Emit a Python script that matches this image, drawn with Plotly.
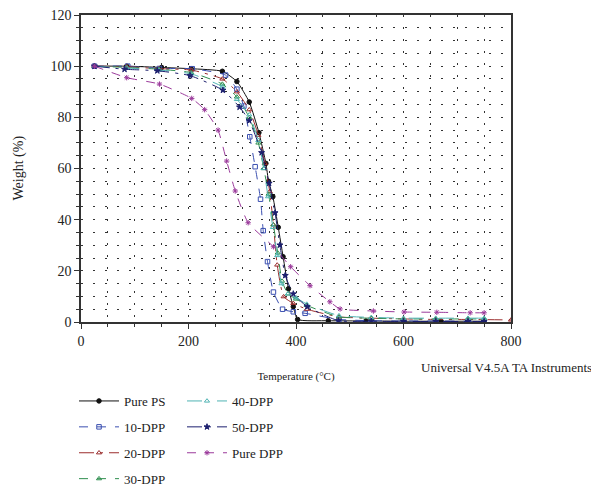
import plotly.graph_objects as go

# ---- data ----
ps_T = [25, 85, 150, 205, 263, 290, 313, 331, 344, 349, 357, 367, 376, 386, 395, 403, 460, 530, 600, 670, 750]
ps_W = [100, 100, 99.5, 99, 98, 94, 86, 74, 62, 55, 49, 37, 25.5, 13, 6, 1, 0.5, 0.4, 0.3, 0.3, 0.3]

d10_T = [25, 87, 146, 207, 269, 290, 303, 314, 324, 334, 339, 347, 358, 375, 395, 417, 480, 540, 600, 660, 720, 750]
d10_W = [100, 100, 99.1, 99, 96.5, 91, 84.4, 72.4, 60.7, 48, 35.7, 23.6, 11.7, 5, 4, 3.4, 1, 0.5, 0.4, 0.4, 0.3, 0.3]

d20_T = [25, 85, 145, 205, 263, 290, 313, 330, 342, 351, 358, 365, 377, 395, 420, 480, 540, 600, 660, 720, 800]
d20_W = [100, 99.8, 99, 98.5, 95, 90, 83, 73, 62, 51, 38, 22.3, 9.9, 7.3, 5, 2, 1.5, 1.2, 1, 1, 0.8]

d30_T = [25, 85, 145, 205, 263, 290, 313, 330, 340, 349, 358, 366, 374, 385, 400, 420, 480, 540, 600, 660, 720, 750]
d30_W = [100, 99.5, 98.8, 97.5, 93, 88, 80, 70, 60, 50, 38, 27, 16, 11, 9, 6.5, 2, 1.5, 1.2, 1.2, 1.2, 1.2]

d40_T = [25, 85, 145, 205, 263, 290, 313, 330, 340, 348, 357, 365, 373, 385, 400, 420, 480, 540, 600, 660, 720, 750]
d40_W = [100, 99.3, 98.5, 97, 92, 87, 81, 71, 60, 49, 37, 26, 15, 11, 9.5, 7, 2.5, 1.8, 1.5, 1.5, 1.5, 1.5]

d50_T = [25, 81, 142, 203, 264, 295, 313, 336, 350, 361, 370, 380, 395, 421, 479, 540, 600, 660, 720, 750]
d50_W = [100, 98.8, 98.2, 96.3, 90.6, 84, 78.7, 66.2, 54.2, 42.7, 30.1, 18.2, 11, 6, 0.5, 0.3, 0.2, 0.2, 0.2, 0.2]

dpp_T = [25, 85, 146, 206, 230, 255, 271, 287, 311, 358, 390, 426, 463, 482, 544, 601, 662, 724, 750]
dpp_W = [100, 95.5, 93, 87.4, 83, 75, 62.9, 51.2, 38.8, 29.4, 21.6, 14.2, 7.9, 5.1, 4.3, 3.9, 3.8, 3.6, 3.6]

series = [
    ("Pure PS", ps_T, ps_W, "#111111", "solid", "circle", "legend"),
    ("10-DPP", d10_T, d10_W, "#3a4fb0", "dash", "square-open", "legend"),
    ("20-DPP", d20_T, d20_W, "#9b2d2d", "longdashdot", "triangle-up-open", "legend"),
    ("30-DPP", d30_T, d30_W, "#2f8f4f", "dash", "triangle-up-open", "legend"),
    ("40-DPP", d40_T, d40_W, "#4fb3b3", "longdash", "triangle-up-open", "legend2"),
    ("50-DPP", d50_T, d50_W, "#1c1f6e", "longdashdot", "star", "legend2"),
    ("Pure DPP", dpp_T, dpp_W, "#9b3a9b", "dash", "asterisk-open", "legend2"),
]

FONT = "Liberation Serif, Times New Roman, serif"

fig = go.Figure()
for i, (name, T, W, col, dash, sym, lg) in enumerate(series):
    fig.add_trace(go.Scatter(
        x=T, y=W, name=name, mode="lines+markers",
        line=dict(color=col, width=1, dash=dash, shape="spline", smoothing=0.5),
        marker=dict(color=col, symbol=sym, size=4.5, line=dict(color=col, width=1)),
        legend=lg, legendgroup=name,
    ))

axis_common = dict(
    showline=True, linecolor="#333333", linewidth=1.5, mirror=True,
    ticks="outside", ticklen=5, tickcolor="#333333",
    tickfont=dict(family=FONT, size=14, color="#222"),
    ticklabeloverflow="allow",
    showgrid=True, gridcolor="#333333", gridwidth=1, griddash="1.5px,10.5px",
    zeroline=False,
)

fig.update_xaxes(range=[0, 800], dtick=200, tick0=0,
                 minor=dict(dtick=50, ticks="outside", ticklen=3, tickcolor="#333",
                            showgrid=True, gridcolor="#333333", griddash="1.5px,10.5px"),
                 title=dict(text="Temperature (°C)", font=dict(family=FONT, size=11, color="#222"), standoff=25),
                 **axis_common)
fig.update_yaxes(range=[0, 120], dtick=20, tick0=0,
                 minor=dict(dtick=5, ticks="outside", ticklen=3, tickcolor="#333",
                            showgrid=True, gridcolor="#333333", griddash="1.5px,10.5px"),
                 **axis_common)

# the page adds an 8px body margin, so the figure is 8px smaller and shifted
W_FIG, H_FIG = 591, 479
leg_common = dict(font=dict(family=FONT, size=13, color="#222"), bgcolor="rgba(0,0,0,0)",
                  xref="container", yref="container", xanchor="left", yanchor="top",
                  tracegroupgap=6, itemwidth=40)
fig.update_layout(
    width=W_FIG, height=H_FIG,
    margin=dict(l=73, r=W_FIG - 503, t=7, b=H_FIG - 314, autoexpand=False),
    plot_bgcolor="white", paper_bgcolor="white",
    legend=dict(x=66 / W_FIG, y=1 - 378 / H_FIG, **leg_common),
    legend2=dict(x=174 / W_FIG, y=1 - 378 / H_FIG, **leg_common),
    annotations=[
        dict(text="Universal V4.5A TA Instruments", xref="paper", yref="paper",
             x=(594 - 81) / 430, y=(322 - 367) / 307, xanchor="right", yanchor="middle",
             showarrow=False, font=dict(family=FONT, size=13, color="#222")),
        dict(text="Weight (%)", xref="paper", yref="paper",
             x=(18 - 81) / 430, y=0.5, xanchor="center", yanchor="middle", textangle=-90,
             showarrow=False, font=dict(family=FONT, size=14, color="#222")),
    ],
)

fig.write_html("out.html")
